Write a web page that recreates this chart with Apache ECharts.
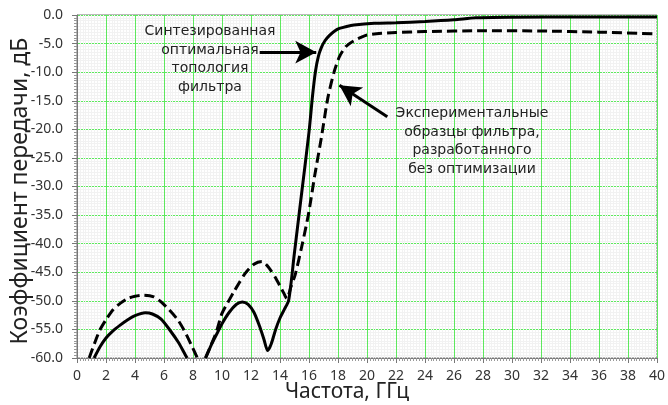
<!DOCTYPE html>
<html><head><meta charset="utf-8">
<script src="https://cdn.jsdelivr.net/npm/echarts@6/dist/echarts.min.js"></script>
<style>html,body{margin:0;padding:0;background:#fff}#c{width:668px;height:405px}</style>
</head><body><div id="c"></div>
<script>
// Synthesized optimal topology (solid)
const solidX = [1.18, 1.6, 2.0, 2.5, 3.0, 3.5, 4.0, 4.7, 5.2, 5.8, 6.4, 7.0, 7.5, 7.6, null,
  8.88, 9.3, 9.7, 10.0, 10.5, 11.0, 11.4, 11.8, 12.2, 12.6, 12.9, 13.15, 13.4, 13.7, 14.0, 14.3, 14.6,
  15.0, 15.5, 16.0, 16.25, 16.45, 16.65, 16.85, 17.1, 17.4, 17.8, 18.1, 18.6, 19.1, 20.5, 22, 24, 26, 27.5, 30, 35, 40];
const solidY = [-60, -58.0, -56.5, -55.2, -54.2, -53.3, -52.6, -52.1, -52.3, -53.2, -55.1, -57.3, -59.6, -60, null,
  -60, -57.5, -55.5, -54.0, -52.0, -50.6, -50.2, -50.6, -52.0, -54.5, -56.8, -58.7, -57.5, -55.0, -53.0, -51.5, -49.9,
  -41.5, -31.0, -20.5, -14.0, -9.8, -7.2, -5.7, -4.5, -3.6, -2.75, -2.35, -2.0, -1.75, -1.45, -1.35, -1.15, -0.85, -0.5, -0.4, -0.35, -0.35];
// Experimental samples without optimization (dashed)
const dashedX = [0.84, 1.2, 1.58, 2.0, 2.5, 3.0, 3.5, 4.0, 4.6, 5.3, 5.8, 6.37, 7.0, 7.5, 7.9, 8.3, null,
  8.85, 9.2, 9.6, 10.0, 10.4, 10.8, 11.2, 11.6, 12.2, 12.75, 13.1, 13.4, 13.7, 14.0, 14.25, 14.47, 14.75,
  15.05, 15.5, 15.96, 16.4, 16.85, 17.3, 17.75, 18.1, 18.55, 19.1, 19.6, 20.0, 21, 22, 24, 28, 32, 36, 40];
const dashedY = [-60, -57.5, -55.1, -53.3, -51.5, -50.4, -49.6, -49.2, -49.0, -49.3, -50.2, -51.6, -53.5, -55.7, -57.8, -60, null,
  -60, -58.0, -55.5, -52.2, -50.3, -48.5, -46.8, -45.2, -43.6, -43.1, -43.8, -44.8, -46.0, -47.4, -48.6, -49.6, -47.6,
  -45.4, -40.5, -34.9, -28.0, -21.5, -14.5, -9.8, -7.3, -5.5, -4.5, -3.9, -3.5, -3.2, -3.05, -2.9, -2.75, -2.8, -3.0, -3.3];

const toPairs = (xs, ys) => xs.map((x, i) => (x === null ? [null, null] : [x, ys[i]]));

const chart = echarts.init(document.getElementById('c'), null, {renderer: 'canvas'});
const axisCol = '#777';
const txt = '#333';
const font = 'Noto Sans';
const option = {
  animation: false,
  backgroundColor: '#fff',
  grid: {left: 77, right: 6, top: 15, bottom: 47, show: true, borderColor: axisCol, borderWidth: 1, backgroundColor: '#fff'},
  xAxis: {
    type: 'value', min: 0, max: 40, interval: 2,
    axisLine: {show: true, onZero: false, lineStyle: {color: axisCol, width: 1}},
    axisTick: {show: true, length: 5, lineStyle: {color: axisCol}},
    minorTick: {show: true, splitNumber: 10, length: 3, lineStyle: {color: '#999'}},
    splitLine: {show: true, lineStyle: {color: '#5ee85e', width: 1}},
    minorSplitLine: {show: true, lineStyle: {color: '#f2f2f2', width: 1}},
    axisLabel: {color: txt, fontFamily: font, fontSize: 14, margin: 11}
  },
  yAxis: {
    type: 'value', min: -60, max: 0, interval: 5,
    axisLine: {show: true, onZero: false, lineStyle: {color: axisCol, width: 1}},
    axisTick: {show: true, length: 5, lineStyle: {color: axisCol}},
    minorTick: {show: true, splitNumber: 10, length: 3, lineStyle: {color: '#999'}},
    splitLine: {show: true, lineStyle: {color: '#5ee85e', width: 1}},
    minorSplitLine: {show: true, lineStyle: {color: '#f2f2f2', width: 1}},
    axisLabel: {color: txt, fontFamily: font, fontSize: 14, margin: 14, formatter: v => v.toFixed(1)}
  },
  series: [
    {
      type: 'line', data: toPairs(solidX, solidY), smooth: 0.25, showSymbol: false, connectNulls: false,
      lineStyle: {color: '#000', width: 3, type: 'solid'}, z: 3,
      markLine: {
        silent: true, animation: false, symbol: ['none', 'arrow'], symbolSize: [17, 21],
        label: {show: false},
        lineStyle: {color: '#000', width: 3, type: 'solid'},
        data: [
          [{coord: [12.6, -6.5]}, {coord: [16.5, -6.5]}],
          [{coord: [21.4, -17.8]}, {coord: [18.1, -12.3]}]
        ]
      }
    },
    {
      type: 'line', data: toPairs(dashedX, dashedY), smooth: 0.25, showSymbol: false, connectNulls: false,
      lineStyle: {color: '#000', width: 3, type: [10, 5]}, z: 3
    }
  ],
  graphic: [
    {type: 'text', x: 210, y: 22, style: {text: 'Синтезированная\nоптимальная\nтопология\nфильтра', fill: '#222', font: '14px "DejaVu Sans"', textAlign: 'center', lineHeight: 18.6}, z: 10},
    {type: 'text', x: 472, y: 104, style: {text: 'Экспериментальные\nобразцы фильтра,\nразработанного\nбез оптимизации', fill: '#222', font: '14px "DejaVu Sans"', textAlign: 'center', lineHeight: 18.6}, z: 10},
    {type: 'text', x: 347, y: 392, style: {text: 'Частота, ГГц', fill: '#222', font: '21px "Noto Sans"', textAlign: 'center', textVerticalAlign: 'middle'}, z: 10},
    {type: 'text', x: 20, y: 191, rotation: Math.PI / 2, style: {text: 'Коэффициент передачи, дБ', fill: '#222', font: '23px "Noto Sans"', textAlign: 'center', textVerticalAlign: 'middle'}, z: 10}
  ]
};
chart.setOption(option);
</script>
</body></html>
